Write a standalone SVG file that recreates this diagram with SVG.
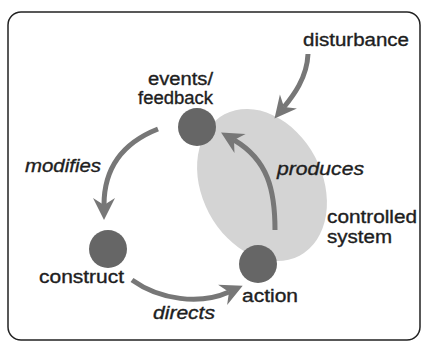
<svg xmlns="http://www.w3.org/2000/svg" width="421" height="344" viewBox="0 0 421 344">
<style>
.lbl{font-family:"Liberation Sans",Arial,Helvetica,sans-serif;font-size:17.5px;fill:#1e1e1e;stroke:#1e1e1e;stroke-width:0.35px;}
.it{font-style:italic;}
.node{fill:#666;}
.conn{fill:none;stroke:#777;stroke-width:5;}
</style>
<defs>
<marker id="ah" markerUnits="userSpaceOnUse" viewBox="-23 -12 24 24" markerWidth="24" markerHeight="24" refX="-15" refY="0" orient="auto">
<path d="M0,0 L-22,-11 L-15,0 L-22,11 Z" fill="#777"/>
</marker>
</defs>
<rect x="8" y="12" width="412" height="328" rx="13" ry="13" fill="#fff" stroke="#222" stroke-width="1.5"/>
<g id="controlled-system">
<ellipse cx="262" cy="185" rx="60" ry="80" transform="rotate(-28 262 185)" fill="#d4d4d4"/>
<text class="lbl" x="327" y="223" textLength="90" lengthAdjust="spacingAndGlyphs">controlled</text>
<text class="lbl" x="327" y="243" textLength="65" lengthAdjust="spacingAndGlyphs">system</text>
</g>
<g id="disturbance">
<text class="lbl" x="303" y="46" textLength="106" lengthAdjust="spacingAndGlyphs">disturbance</text>
</g>
<g id="connectors">
<path class="conn" d="M308,54 C307,78 293,96 284,107" marker-end="url(#ah)"/>
<path class="conn" d="M158,129 C125,142 104,165 104,205" marker-end="url(#ah)"/>
<path class="conn" d="M132,280 C160,300 200,305 229,292" marker-end="url(#ah)"/>
<path class="conn" d="M275,230 C275,190 268,160 234,140" marker-end="url(#ah)"/>
<text class="lbl it" x="25" y="172" textLength="76" lengthAdjust="spacingAndGlyphs">modifies</text>
<text class="lbl it" x="277" y="175" textLength="87" lengthAdjust="spacingAndGlyphs">produces</text>
<text class="lbl it" x="153" y="319" textLength="62" lengthAdjust="spacingAndGlyphs">directs</text>
</g>
<g id="events-feedback">
<circle class="node" cx="197" cy="127" r="19"/>
<text class="lbl" x="148" y="85" textLength="65" lengthAdjust="spacingAndGlyphs">events/</text>
<text class="lbl" x="138" y="104" textLength="75" lengthAdjust="spacingAndGlyphs">feedback</text>
</g>
<g id="construct">
<circle class="node" cx="108" cy="249" r="19"/>
<text class="lbl" x="39" y="283" textLength="85" lengthAdjust="spacingAndGlyphs">construct</text>
</g>
<g id="action">
<circle class="node" cx="258" cy="264" r="19"/>
<text class="lbl" x="242" y="302" textLength="56" lengthAdjust="spacingAndGlyphs">action</text>
</g>
</svg>
